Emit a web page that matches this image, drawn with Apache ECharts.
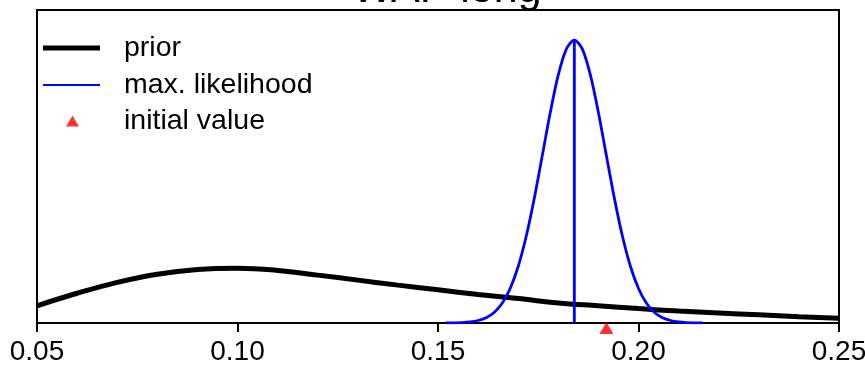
<!DOCTYPE html>
<html>
<head>
<meta charset="utf-8">
<script src="https://cdn.jsdelivr.net/npm/echarts@6/dist/echarts.min.js"></script>
<style>
html,body{margin:0;padding:0;background:#fff;}
#chart{width:865px;height:379px;}
</style>
</head>
<body>
<div id="chart"></div>
<script>
// ---- data ----
var titleText = 'WAP long';
var xTicks = [0.05, 0.10, 0.15, 0.20, 0.25];

// prior density (relative units)
var priorX = [0.05, 0.06, 0.07, 0.08, 0.09, 0.10, 0.11, 0.12, 0.13, 0.14, 0.15,
              0.16, 0.17, 0.18, 0.19, 0.20, 0.21, 0.22, 0.23, 0.24, 0.25];
var priorY = [0.055, 0.095, 0.130, 0.156, 0.171, 0.175, 0.168, 0.153, 0.137, 0.121, 0.106,
              0.091, 0.078, 0.064, 0.055, 0.046, 0.038, 0.032, 0.026, 0.020, 0.015];

// max. likelihood curve (relative units)
var mlX = [0.152, 0.154, 0.156, 0.158, 0.160, 0.162, 0.164, 0.166, 0.168, 0.170, 0.172,
           0.174, 0.176, 0.178, 0.180, 0.182, 0.184, 0.186, 0.188, 0.190, 0.192, 0.194,
           0.196, 0.198, 0.200, 0.202, 0.204, 0.206, 0.208, 0.210, 0.212, 0.214, 0.216];
var mlY = [0.0002, 0.0006, 0.0014, 0.0035, 0.0080, 0.0169, 0.0338, 0.0630, 0.1103, 0.1805, 0.2770,
           0.3974, 0.5342, 0.6724, 0.7926, 0.8748, 0.9040, 0.8748, 0.7926, 0.6724, 0.5342, 0.3974,
           0.2770, 0.1805, 0.1103, 0.0630, 0.0338, 0.0169, 0.0080, 0.0035, 0.0014, 0.0006, 0.0002];

var mleValue = 0.184;
var mlePeak = 0.904;
var initialValue = 0.192;

var seriesNames = ['prior', 'max. likelihood', 'initial value'];

// ---- build ----
function zip(a, b) { return a.map(function (v, i) { return [v, b[i]]; }); }

var FONT = '"Liberation Sans", Arial, sans-serif';
var chart = echarts.init(document.getElementById('chart'), null, {renderer: 'canvas'});

var legendCommon = {
  orient: 'vertical',
  selectedMode: false,
  itemGap: 0,
  padding: 0,
  textStyle: {fontFamily: FONT, fontSize: 28.5, color: '#000', lineHeight: 30}
};

chart.setOption({
  animation: false,
  backgroundColor: '#fff',
  title: {
    text: titleText,
    left: 352,
    top: -31,
    padding: 0,
    textStyle: {fontFamily: FONT, fontSize: 43, fontWeight: 'normal', color: '#000'}
  },
  grid: {
    left: 37, right: 26, top: 10, bottom: 56,
    outerBoundsMode: 'none', containLabel: false,
    show: true, borderColor: '#000', borderWidth: 2, backgroundColor: 'transparent'
  },
  legend: [
    Object.assign({}, legendCommon, {
      data: [{name: seriesNames[0], icon: 'rect'}],
      left: 43, top: 33, itemWidth: 57, itemHeight: 5,
      textStyle: Object.assign({}, legendCommon.textStyle, {padding: [0, 0, 0, 19]})
    }),
    Object.assign({}, legendCommon, {
      data: [{name: seriesNames[1], icon: 'rect'}],
      left: 43, top: 70, itemWidth: 57, itemHeight: 2,
      textStyle: Object.assign({}, legendCommon.textStyle, {padding: [0, 0, 0, 19]})
    }),
    Object.assign({}, legendCommon, {
      data: [{name: seriesNames[2], icon: 'triangle'}],
      left: 66, top: 106, itemWidth: 13, itemHeight: 11,
      textStyle: Object.assign({}, legendCommon.textStyle, {padding: [0, 0, 0, 40]})
    })
  ],
  xAxis: {
    type: 'value',
    min: 0.05, max: 0.25, interval: 0.05,
    axisLine: {show: true, lineStyle: {color: '#000', width: 2}},
    axisTick: {show: true, inside: false, length: 9, lineStyle: {color: '#000', width: 2}},
    splitLine: {show: false},
    axisLabel: {
      margin: 15, color: '#000', fontFamily: FONT, fontSize: 28,
      formatter: function (v) { return v.toFixed(2); },
      showMinLabel: true, showMaxLabel: true
    }
  },
  yAxis: {
    type: 'value', min: 0, max: 1, show: false
  },
  series: [
    {
      name: seriesNames[0], type: 'line', data: zip(priorX, priorY),
      smooth: 0.4, symbol: 'none', color: '#000',
      itemStyle: {color: '#000'},
      lineStyle: {color: '#000', width: 5}, z: 3
    },
    {
      name: seriesNames[1], type: 'line', data: zip(mlX, mlY),
      smooth: 0.3, symbol: 'none', color: '#0000ff',
      itemStyle: {color: '#0000ff'},
      lineStyle: {color: '#0000ff', width: 2.8}, z: 4
    },
    {
      name: 'mle', type: 'line', data: [[mleValue, 0], [mleValue, mlePeak]],
      symbol: 'none', color: '#0000ff',
      lineStyle: {color: '#0000ff', width: 2.8}, z: 4
    },
    {
      name: seriesNames[2], type: 'scatter', data: [[initialValue, 0]],
      symbol: 'triangle', symbolSize: [14, 12], symbolOffset: [0, 5],
      color: '#ff0000', itemStyle: {color: '#ff0000'}, clip: false, z: 10
    }
  ]
});
</script>
</body>
</html>
